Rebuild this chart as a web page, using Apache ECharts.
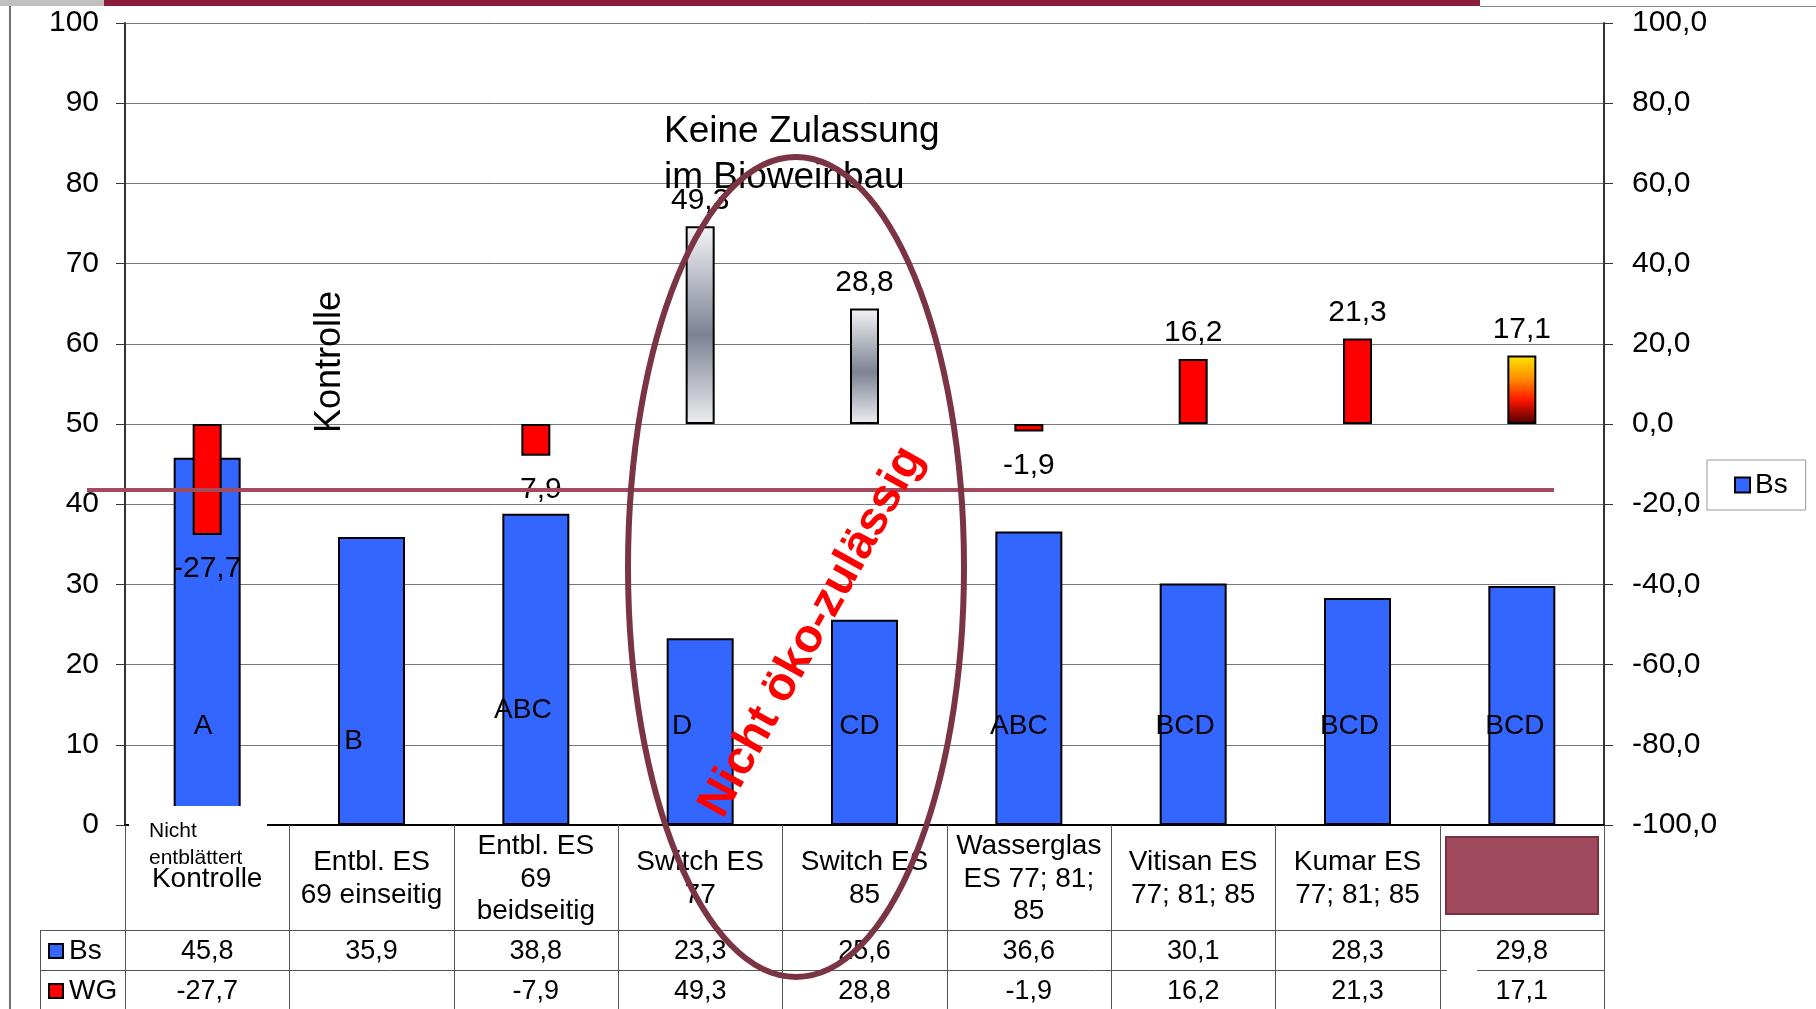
<!DOCTYPE html>
<html>
<head>
<meta charset="utf-8">
<script src="https://cdn.jsdelivr.net/npm/echarts@6/dist/echarts.min.js"></script>
<style>
    html, body { margin: 0; padding: 0; background: #fff; }
    #chart { width: 1816px; height: 1009px; }
</style>
</head>
<body>
<div id="chart"></div>
<script>
// Daten
const categories = ['Kontrolle', 'Entbl. ES\n69 einseitig', 'Entbl. ES\n69\nbeidseitig', 'Switch ES\n77', 'Switch ES\n85',
    'Wasserglas\nES 77; 81;\n85', 'Vitisan ES\n77; 81; 85', 'Kumar ES\n77; 81; 85', ''];
const bsValues = [45.8, 35.9, 38.8, 23.3, 25.6, 36.6, 30.1, 28.3, 29.8];
const wgValues = [-27.7, null, -7.9, 49.3, 28.8, -1.9, 16.2, 21.3, 17.1];
const bsLetters = ['A', 'B', 'ABC', 'D', 'CD', 'ABC', 'BCD', 'BCD', 'BCD'];
const leftTicks = [0, 100, 10];   // min, max, step
const rightTicks = [-100, 100, 20];

// Layout
const G = { left: 125, top: 23, width: 1479, height: 802 };
const colW = G.width / categories.length;
const baseY = G.top + G.height;
const FONT = 'Liberation Sans, Arial, sans-serif';
const letterShift = [[-4, 1], [-18, 16], [-13, -15], [-18, 1], [-5, 1], [-10, 1], [-8, 1], [-8, 1], [-7, 1]];

const fmt = v => (v == null ? '' : v.toFixed(1).replace('.', ','));

// Füllungen WG
const red = '#ff0000';
const grey = new echarts.graphic.LinearGradient(0, 0, 0, 1, [
    { offset: 0, color: '#f4f4f6' },
    { offset: 0.55, color: '#7c8394' },
    { offset: 1, color: '#eeeef0' }
]);
const fire = new echarts.graphic.LinearGradient(0, 0, 0, 1, [
    { offset: 0, color: '#ffe800' },
    { offset: 0.35, color: '#ff8a00' },
    { offset: 0.65, color: '#ff1500' },
    { offset: 1, color: '#4a0000' }
]);
const wgFills = [red, red, red, grey, grey, red, red, red, fire];

// Tabelle unter dem Diagramm
const tableGraphics = () => {
    const els = [];
    const line = (x1, y1, x2, y2, stroke = '#555', w = 1) =>
        els.push({ type: 'line', z: 5, shape: { x1, y1, x2, y2 }, style: { stroke, lineWidth: w } });
    for (let k = 0; k <= categories.length; k++) {
        const x = Math.round(G.left + k * colW) + 0.5;
        line(x, baseY, x, 1009);
    }
    line(40.5, 930, 40.5, 1009);
    line(40, 930.5, G.left + G.width, 930.5);
    line(40, 970.5, 1447, 970.5);
    line(1477, 970.5, G.left + G.width, 970.5);
    // Legendenschlüssel
    [['Bs', '#3366ff', 951], ['WG', '#ff0000', 991]].forEach(([t, c, y]) => {
        els.push({ type: 'rect', z: 6, shape: { x: 49, y: y - 7, width: 14, height: 14 }, style: { fill: c, stroke: '#000', lineWidth: 2 } });
        els.push({ type: 'text', z: 6, x: 69, y, style: { text: t, font: `28px ${FONT}`, fill: '#000', verticalAlign: 'middle' } });
    });
    return els;
};

const chart = echarts.init(document.getElementById('chart'));

const option = {
    animation: false,
    backgroundColor: '#fff',
    grid: { left: G.left, top: G.top, width: G.width, height: G.height },
    legend: {
        data: ['Bs'],
        icon: 'rect',
        left: 1707,
        top: 460,
        padding: [11, 18, 11, 27],
        itemWidth: 15,
        itemHeight: 15,
        borderColor: '#999',
        borderWidth: 1,
        textStyle: { fontSize: 28, color: '#000', fontFamily: FONT }
    },
    xAxis: [
        {
            type: 'category',
            data: categories,
            z: 4,
            axisLine: { lineStyle: { color: '#000', width: 2 } },
            axisTick: { show: false },
            axisLabel: { interval: 0, margin: 54, verticalAlign: 'middle', lineHeight: 32.5, fontSize: 28, color: '#000', fontFamily: FONT }
        },
        { type: 'category', data: categories, show: false },
        {
            type: 'category',
            data: bsValues.map(fmt),
            position: 'bottom',
            offset: 127,
            axisLine: { show: false },
            axisTick: { show: false },
            axisLabel: { interval: 0, margin: 0, verticalAlign: 'middle', fontSize: 27, color: '#000', fontFamily: FONT }
        },
        {
            type: 'category',
            data: wgValues.map(fmt),
            position: 'bottom',
            offset: 167,
            axisLine: { show: false },
            axisTick: { show: false },
            axisLabel: { interval: 0, margin: 0, verticalAlign: 'middle', fontSize: 27, color: '#000', fontFamily: FONT }
        }
    ],
    yAxis: [
        {
            type: 'value',
            min: leftTicks[0],
            max: leftTicks[1],
            interval: leftTicks[2],
            axisLine: { show: true, lineStyle: { color: '#333', width: 2 } },
            axisTick: { show: true, length: 9, lineStyle: { color: '#333' } },
            axisLabel: { margin: 26, fontSize: 30, color: '#000', fontFamily: FONT, padding: [4, 0, 0, 0] },
            splitLine: { lineStyle: { color: '#777', width: 1 } }
        },
        {
            type: 'value',
            position: 'right',
            min: rightTicks[0],
            max: rightTicks[1],
            interval: rightTicks[2],
            axisLine: { show: true, lineStyle: { color: '#333', width: 2 } },
            axisTick: { show: true, length: 9, lineStyle: { color: '#333' } },
            axisLabel: { margin: 28, fontSize: 30, color: '#000', fontFamily: FONT, padding: [4, 0, 0, 0], formatter: v => fmt(v) },
            splitLine: { show: false }
        }
    ],
    series: [
        {
            name: 'Bs',
            type: 'bar',
            xAxisIndex: 0,
            yAxisIndex: 0,
            barWidth: 67,
            itemStyle: { color: '#3366ff', borderColor: '#000', borderWidth: 2 },
            label: {
                show: true,
                position: 'insideBottom',
                distance: 100,
                verticalAlign: 'middle',
                fontSize: 28,
                color: '#000',
                fontFamily: FONT,
                formatter: p => bsLetters[p.dataIndex]
            },
            data: bsValues.map((v, i) => ({ value: v, label: { offset: letterShift[i] } }))
        },
        {
            name: 'WG',
            type: 'bar',
            xAxisIndex: 1,
            yAxisIndex: 1,
            barWidth: 29,
            z: 3,
            itemStyle: { borderColor: '#000', borderWidth: 2 },
            label: { show: true, fontSize: 30, color: '#000', fontFamily: FONT, formatter: p => fmt(p.value) },
            data: wgValues.map((v, i) =>
                v == null ? null : {
                    value: v,
                    itemStyle: { color: wgFills[i] },
                    label: v < 0 ? { position: 'bottom', distance: 19 } : { position: 'top', distance: 11 }
                }
            )
        }
    ],
    graphic: [
        // Kopfleiste + Rahmen
        { type: 'rect', z: 5, shape: { x: 0, y: 0, width: 104, height: 6 }, style: { fill: '#c0c0c0' } },
        { type: 'rect', z: 5, shape: { x: 104, y: 0, width: 1376, height: 6 }, style: { fill: '#8c1a3a' } },
        { type: 'line', z: 5, shape: { x1: 1480, y1: 6.5, x2: 1816, y2: 6.5 }, style: { stroke: '#888', lineWidth: 1 } },
        { type: 'line', z: 5, shape: { x1: 10, y1: 6, x2: 10, y2: 1009 }, style: { stroke: '#444', lineWidth: 1.5 } },
        ...tableGraphics(),
        // "Nicht entblättert" Kasten
        { type: 'rect', z: 10, shape: { x: 129, y: 806, width: 138, height: 60 }, style: { fill: '#fff' } },
        { type: 'text', z: 11, x: 149, y: 831, style: { text: 'Nicht', font: `21px ${FONT}`, fill: '#000', verticalAlign: 'middle' } },
        { type: 'text', z: 11, x: 149, y: 858, style: { text: 'entblättert', font: `21px ${FONT}`, fill: '#000', verticalAlign: 'middle' } },
        // verdeckte Beschriftung letzte Spalte
        { type: 'rect', z: 10, shape: { x: 1446, y: 837, width: 152, height: 77 }, style: { fill: '#9e4a5c', stroke: '#7a3040', lineWidth: 2 } },
        // Anmerkungen
        {
            type: 'text', z: 10, x: 330, y: 362, rotation: Math.PI / 2,
            style: { text: 'Kontrolle', font: `36px ${FONT}`, fill: '#000', align: 'center', verticalAlign: 'middle' }
        },
        {
            type: 'text', z: 10, x: 664, y: 155,
            style: { text: 'Keine Zulassung\nim Bioweinbau', font: `37px ${FONT}`, lineHeight: 46, fill: '#000', verticalAlign: 'middle' }
        },
        { type: 'line', z: 12, shape: { x1: 87, y1: 490, x2: 1554, y2: 490 }, style: { stroke: '#a34a5e', lineWidth: 4 } },
        {
            type: 'text', z: 12, x: 812, y: 632, rotation: (61 * Math.PI) / 180,
            style: { text: 'Nicht öko-zulässig', font: `bold 47px ${FONT}`, fill: '#ff0000', align: 'center', verticalAlign: 'middle' }
        },
        { type: 'ellipse', z: 20, shape: { cx: 796, cy: 567, rx: 168, ry: 410 }, style: { fill: 'none', stroke: '#7b3444', lineWidth: 6 } }
    ]
};

chart.setOption(option);
</script>
</body>
</html>
